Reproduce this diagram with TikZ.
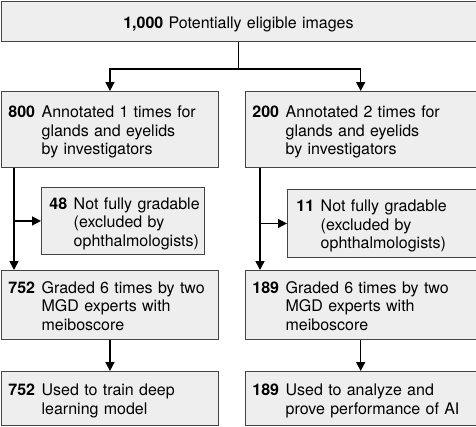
\documentclass[tikz,border=0pt]{standalone}
\usepackage{fontspec}
\setmainfont{TeX Gyre Heros}
\usepackage{tikz}
\usepackage{xcolor}
\usetikzlibrary{arrows.meta}

\definecolor{boxfill}{HTML}{EEEEEE}
\definecolor{boxline}{HTML}{444444}
% bold count, then the lines of the box text (continued lines start with &)
\newcommand{\flowtext}[2]{\begin{tabular}{@{}l@{\hspace{6.5pt}}l@{}}\rule{0pt}{19pt}\textbf{#1} & #2\end{tabular}}

\begin{document}
\begin{tikzpicture}[x=1pt, y=-1pt,
  box/.style={draw=boxline, fill=boxfill, line width=0.9pt, anchor=north west,
    inner xsep=7pt, inner ysep=0pt, align=left, font=\fontsize{16}{18.5}\selectfont},
  flow/.style={line width=1.5pt, -{Triangle[length=9pt, width=9pt]}}]
  \useasboundingbox (0,0) rectangle (476,426);
  % Boksene
  \node[box, align=center, text width=461pt, minimum height=40pt] (total) at (0.5,1)
    {\rule{0pt}{17pt}\textbf{1,000} Potentially eligible images};
  \node[box, text width=203pt, minimum height=76pt] (ann1) at (1,91)
    {\flowtext{800}{Annotated 1 times for\\ & glands and eyelids\\ & by investigators}};
  \node[box, text width=216.5pt, minimum height=76pt] (ann2) at (245,91)
    {\flowtext{200}{Annotated 2 times for\\ & glands and eyelids\\ & by investigators}};
  \node[box, inner xsep=8pt, text width=147pt, minimum height=67pt] (excl1) at (41,187)
    {\flowtext{48}{Not fully gradable\\ & (excluded by\\ & ophthalmologists)}};
  \node[box, inner xsep=9pt, text width=170.5pt, minimum height=68pt] (excl2) at (287,189)
    {\flowtext{11}{Not fully gradable\\ & (excluded by\\ & ophthalmologists)}};
  \node[box, text width=203pt, minimum height=69pt] (grade1) at (1,270)
    {\flowtext{752}{Graded 6 times by two\\ & MGD experts with\\ & meiboscore}};
  \node[box, text width=216.5pt, minimum height=69pt] (grade2) at (245,270)
    {\flowtext{189}{Graded 6 times by two\\ & MGD experts with\\ & meiboscore}};
  \node[box, text width=203pt, minimum height=54pt] (use1) at (1,371)
    {\flowtext{752}{Used to train deep\\ & learning model}};
  \node[box, text width=216.5pt, minimum height=54pt] (use2) at (245,371)
    {\flowtext{189}{Used to analyze and\\ & prove performance of AI}};
  % Pilene
  \coordinate (split) at (total.south |- 0,69);
  \draw[line width=1.5pt] (total.south) -- (split);
  \draw[flow] (split) -| (ann1.north);
  \draw[flow] (split) -| (ann2.north);
  \path (ann1.south west) ++(13,0) coordinate (left);
  \path (ann2.south west) ++(15,0) coordinate (right);
  \draw[flow] (left) -- (left |- grade1.north);
  \draw[flow] (right) -- (right |- grade2.north);
  \draw[flow] (left |- excl1.west) -- (excl1.west);
  \draw[flow] (right |- excl2.west) -- (excl2.west);
  \draw[flow] (grade1) -- (use1);
  \draw[flow] (grade2) -- (use2);
\end{tikzpicture}
\end{document}
